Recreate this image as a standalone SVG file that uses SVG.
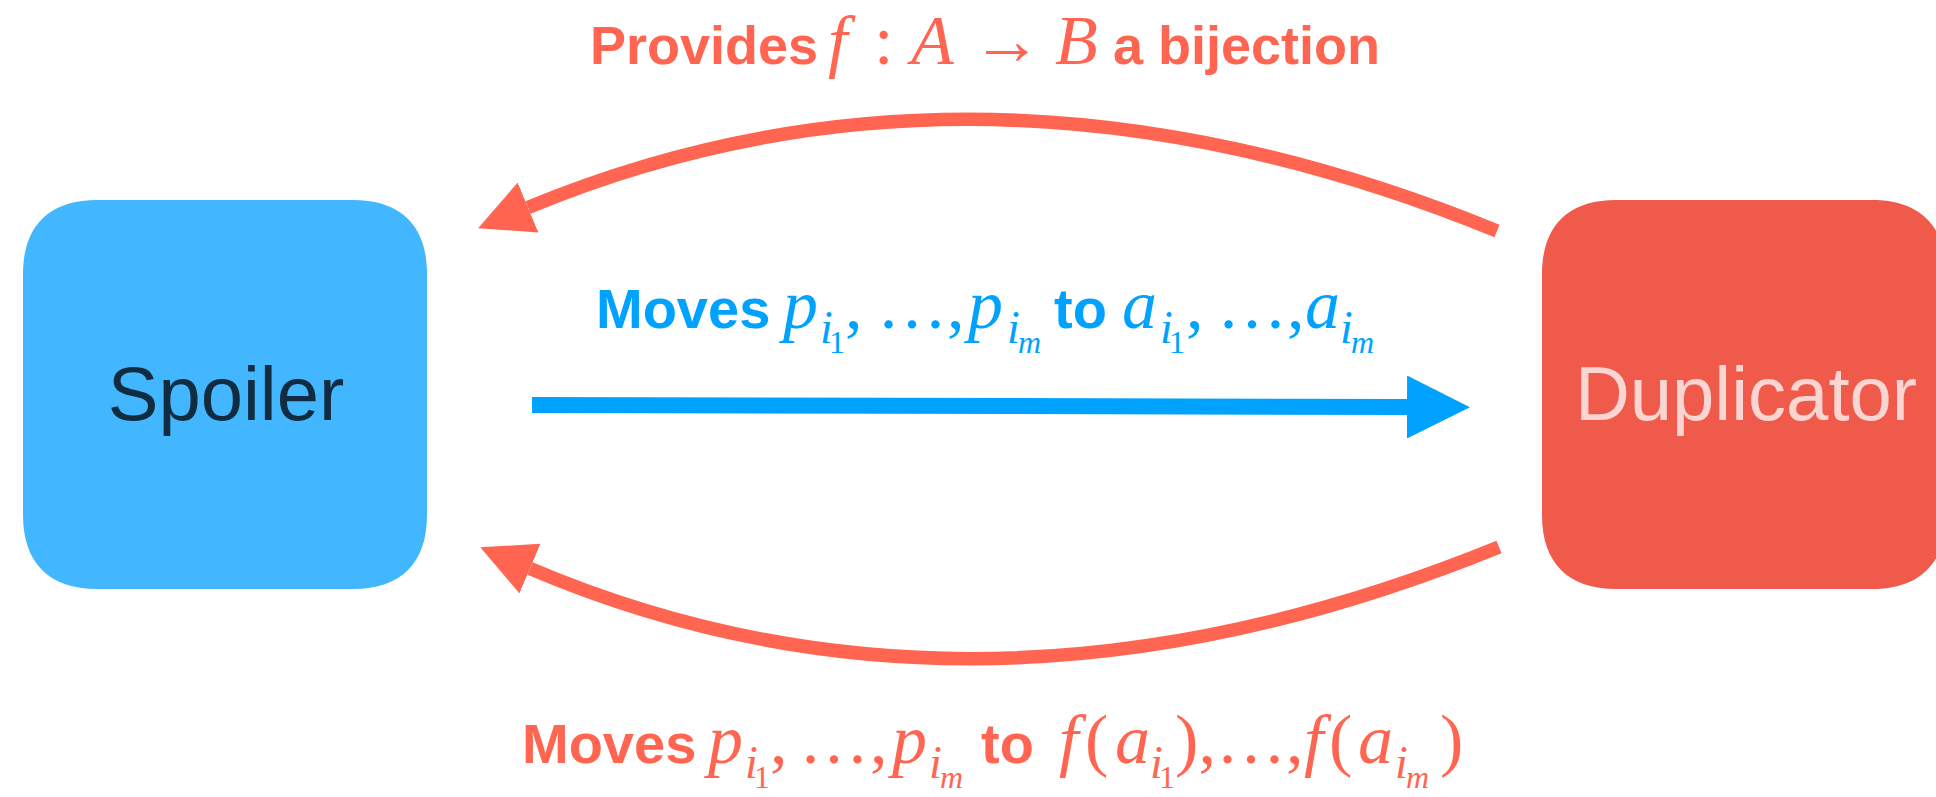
<svg xmlns="http://www.w3.org/2000/svg" width="1936" height="797" viewBox="0 0 1936 797">
<style>
.bold{font-family:"Liberation Sans",Arial,sans-serif;font-weight:bold;font-size:56px}
.bold-top{font-family:"Liberation Sans",Arial,sans-serif;font-weight:bold;font-size:54px}
.mi{font-family:"Liberation Serif","Times New Roman",serif;font-style:italic;font-size:70px}
.mu{font-family:"Liberation Serif","Times New Roman",serif;font-style:normal;font-size:70px}
.sub{font-family:"Liberation Serif","Times New Roman",serif;font-style:italic;font-size:46px}
.sub2{font-family:"Liberation Serif","Times New Roman",serif;font-style:italic;font-size:32px}
.sub2n{font-family:"Liberation Serif","Times New Roman",serif;font-style:normal;font-size:32px}
.coral{fill:#FF6550}
.blue{fill:#00A2FF}
.node-label{font-family:"Liberation Sans",Arial,sans-serif;font-size:76px;text-anchor:middle}
.red-line{fill:none;stroke:#FF6550;stroke-width:13.5}
.blue-line{fill:none;stroke:#00A2FF;stroke-width:16}
</style>
<defs>
<marker id="ah-red" markerUnits="userSpaceOnUse" viewBox="0 0 54 54" refX="0" refY="27" markerWidth="54" markerHeight="54" orient="auto">
<path d="M0,0 L54,27 L0,54 Z" fill="#FF6550"/>
</marker>
<marker id="ah-blue" markerUnits="userSpaceOnUse" viewBox="0 0 63 63" refX="0" refY="31.5" markerWidth="63" markerHeight="63" orient="auto">
<path d="M0,0 L63,31.5 L0,63 Z" fill="#00A2FF"/>
</marker>
</defs>
<rect width="1936" height="797" fill="#FFFFFF"/>
<g id="spoiler">
<path d="M23,274 C23,226 49,200 97,200 L353,200 C401,200 427,226 427,274 L427,515 C427,563 401,589 353,589 L97,589 C49,589 23,563 23,515 Z" fill="#42B7FF"/>
<text class="node-label" x="226" y="420" fill="#112B40">Spoiler</text>
</g>
<g id="duplicator">
<path d="M1542,274 C1542,226 1568,200 1616,200 L1872,200 C1920,200 1946,226 1946,274 L1946,515 C1946,563 1920,589 1872,589 L1616,589 C1568,589 1542,563 1542,515 Z" fill="#F05A4A"/>
<text class="node-label" x="1746" y="420" fill="#FAD5D1">Duplicator</text>
</g>
<g id="connectors">
<path class="red-line" d="M1497,231 Q980,20 528,207.5" marker-end="url(#ah-red)"/>
<path class="red-line" d="M1499,547 Q978,759 530,568.5" marker-end="url(#ah-red)"/>
<path class="blue-line" d="M532,405 L1407,407" marker-end="url(#ah-blue)"/>
</g>
<g id="label-top" class="coral">
<text y="64"><tspan class="bold-top" x="590">Provides</tspan><tspan class="mi" x="828">f</tspan><tspan class="mu" x="874">:</tspan><tspan class="mi" x="911">A</tspan><tspan class="mu" x="972">→</tspan><tspan class="mi" x="1055">B</tspan><tspan class="bold-top" x="1113">a bijection</tspan></text>
</g>
<g id="label-middle" class="blue">
<text y="328"><tspan class="bold" x="596">Moves</tspan><tspan class="mi" x="783">p</tspan><tspan class="sub" x="820" y="343">i</tspan><tspan class="sub2n" x="829" y="353">1</tspan><tspan class="mu" x="845" y="328">,</tspan><tspan class="mu" x="877">…</tspan><tspan class="mu" x="947">,</tspan><tspan class="mi" x="968">p</tspan><tspan class="sub" x="1007" y="343">i</tspan><tspan class="sub2" x="1018" y="353">m</tspan><tspan class="bold" x="1054" y="328">to</tspan><tspan class="mi" x="1122">a</tspan><tspan class="sub" x="1160" y="343">i</tspan><tspan class="sub2n" x="1169" y="353">1</tspan><tspan class="mu" x="1186" y="328">,</tspan><tspan class="mu" x="1217">…</tspan><tspan class="mu" x="1287">,</tspan><tspan class="mi" x="1305">a</tspan><tspan class="sub" x="1340" y="343">i</tspan><tspan class="sub2" x="1351" y="353">m</tspan></text>
</g>
<g id="label-bottom" class="coral">
<text y="763"><tspan class="bold" x="522">Moves</tspan><tspan class="mi" x="708">p</tspan><tspan class="sub" x="745" y="778">i</tspan><tspan class="sub2n" x="754" y="788">1</tspan><tspan class="mu" x="770" y="763">,</tspan><tspan class="mu" x="799">…</tspan><tspan class="mu" x="870">,</tspan><tspan class="mi" x="892">p</tspan><tspan class="sub" x="929" y="778">i</tspan><tspan class="sub2" x="940" y="788">m</tspan><tspan class="bold" x="981" y="763">to</tspan><tspan class="mi" x="1059">f</tspan><tspan class="mu" x="1085">(</tspan><tspan class="mi" x="1115">a</tspan><tspan class="sub" x="1150" y="778">i</tspan><tspan class="sub2n" x="1159" y="788">1</tspan><tspan class="mu" x="1175" y="763">)</tspan><tspan class="mu" x="1198.5">,</tspan><tspan class="mu" x="1216">…</tspan><tspan class="mu" x="1286">,</tspan><tspan class="mi" x="1304">f</tspan><tspan class="mu" x="1329">(</tspan><tspan class="mi" x="1358">a</tspan><tspan class="sub" x="1395" y="778">i</tspan><tspan class="sub2" x="1406" y="788">m</tspan><tspan class="mu" x="1440" y="763">)</tspan></text>
</g>
</svg>
